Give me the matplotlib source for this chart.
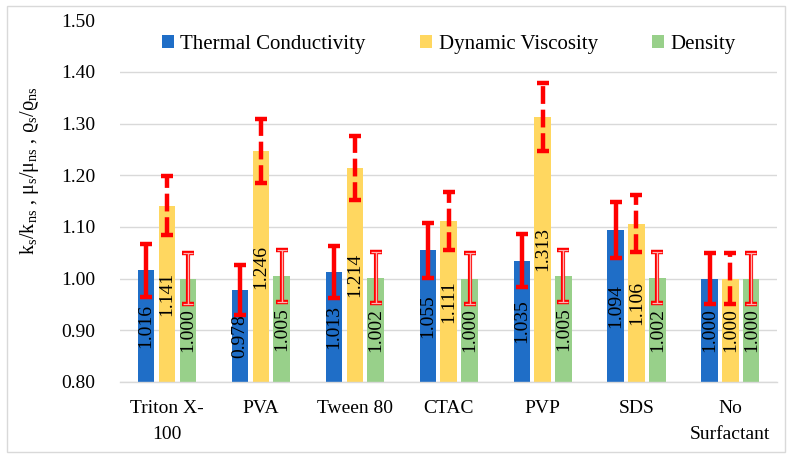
import matplotlib
matplotlib.use('Agg')
import matplotlib.pyplot as plt
import numpy as np
from matplotlib.patches import Rectangle

plt.rcParams['font.family'] = ['Liberation Serif', 'DejaVu Serif']
plt.rcParams['mathtext.fontset'] = 'custom'
plt.rcParams['mathtext.rm'] = 'Liberation Serif'

# datos
surfactants = ['Triton X-\n100', 'PVA', 'Tween 80', 'CTAC', 'PVP', 'SDS', 'No\nSurfactant']
thermal = [1.016, 0.978, 1.013, 1.055, 1.035, 1.094, 1.000]
viscosity = [1.141, 1.246, 1.214, 1.111, 1.313, 1.106, 1.000]
density = [1.000, 1.005, 1.002, 1.000, 1.005, 1.002, 1.000]
err_thermal = [0.051, 0.049, 0.051, 0.053, 0.052, 0.055, 0.050]
err_visc = [0.057, 0.062, 0.061, 0.056, 0.066, 0.055, 0.050]
err_dens = [0.050, 0.050, 0.050, 0.050, 0.050, 0.050, 0.050]

c_blue = '#1F6EC7'
c_yellow = '#FFD760'
c_green = '#98D08A'

fig = plt.figure(figsize=(7.92, 4.58), dpi=100)
ax = fig.add_axes([0.1515, 0.166, 0.83, 0.79])

x = np.arange(len(surfactants))
w = 0.175
d = 0.222
base = 0.8

b1 = ax.bar(x - d, np.array(thermal) - base, w, bottom=base, color=c_blue, label='Thermal Conductivity', zorder=2)
b2 = ax.bar(x, np.array(viscosity) - base, w, bottom=base, color=c_yellow, label='Dynamic Viscosity', zorder=2)
b3 = ax.bar(x + d, np.array(density) - base, w, bottom=base, color=c_green, label='Density', zorder=2)

# barras de error
ax.errorbar(x - d, thermal, yerr=err_thermal, fmt='none', ecolor='red', elinewidth=3.2,
            capsize=4, capthick=3.2, zorder=4)
eb = ax.errorbar(x, viscosity, yerr=err_visc, fmt='none', ecolor='red', elinewidth=3.2,
                 capsize=4, capthick=3.2, zorder=4)
eb[2][0].set_linestyle((0, (4, 1.3)))
ax.errorbar(x + d, density, yerr=err_dens, fmt='none', ecolor='red', elinewidth=3,
            capsize=4, capthick=3.2, zorder=4)
ax.errorbar(x + d, density, yerr=err_dens, fmt='none', ecolor='#ffb0b0', elinewidth=1,
            capsize=3.6, capthick=0.9, zorder=5)

# etiquetas dentro de las barras
for vals, off in [(thermal, -d), (viscosity, 0), (density, d)]:
    for xi, v in zip(x, vals):
        ax.text(xi + off, (v + base) / 2, '%.3f' % v, rotation=90, ha='center', va='center',
                fontsize=14, color='black', zorder=6)

ax.set_ylim(0.8, 1.5)
ax.set_xlim(-0.5, 6.5)
ax.set_yticks(np.arange(0.8, 1.51, 0.1))
ax.set_yticklabels(['%.2f' % t for t in np.arange(0.8, 1.51, 0.1)], fontsize=14)
ax.set_xticks(x)
ax.set_xticklabels(surfactants, fontsize=14, linespacing=1.7)
ax.tick_params(axis='both', length=0)
ax.tick_params(axis='x', pad=13)
ax.tick_params(axis='y', pad=18)
ax.grid(axis='y', color='#d9d9d9', lw=1, zorder=0)
ax.yaxis.get_gridlines()[-1].set_visible(False)
for s in ['top', 'right', 'left']:
    ax.spines[s].set_visible(False)
ax.spines['bottom'].set_color('#d9d9d9')
ax.spines['bottom'].set_linewidth(1)

ax.set_ylabel(r'k$_{\rm s}$/k$_{\rm ns}$ , μ$_{\rm s}$/μ$_{\rm ns}$ , ϱ$_{\rm s}$/ϱ$_{\rm ns}$',
              fontsize=14.5)
ax.yaxis.set_label_coords(-0.12, 0.585)

ax.legend(loc='upper center', bbox_to_anchor=(0.5, 1.012), ncol=3, frameon=False, fontsize=15,
          handlelength=0.6, handleheight=0.6, handletextpad=0.3, columnspacing=2.6)

fig.patches.append(Rectangle((7 / 792, 6 / 458), 778 / 792, 446 / 458, transform=fig.transFigure,
                             fill=False, edgecolor='#d9d9d9', lw=1))

fig.savefig('out.png', dpi=100)
